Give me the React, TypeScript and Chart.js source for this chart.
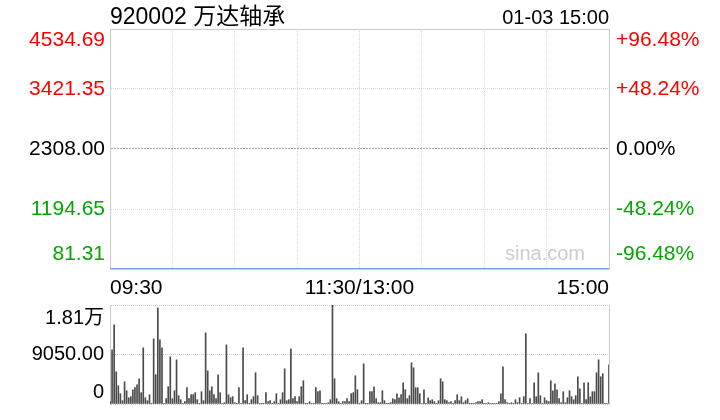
import React, { useEffect, useRef } from "react";
import { Chart, registerables } from "chart.js";

Chart.register(...registerables);

const FONT = "'Liberation Sans', Arial, Helvetica, 'Noto Sans CJK SC', sans-serif";
const RED = "#ff0000";
const GREEN = "#00a800";
const BLUE = "#5b82c8";

const stockTitle = "920002 万达轴承";
const stampText = "01-03 15:00";
const watermark = "sina.com";

const prevClose = 2308.0;
const priceTicks = [81.31, 1194.65, 2308.0, 3421.35, 4534.69];
const pctTicks = [-96.48, -48.24, 0, 48.24, 96.48];
const pctLabels = ["-96.48%", "-48.24%", "0.00%", "+48.24%", "+96.48%"];

const timeTicks = [0, 30, 60, 90, 120, 150, 180, 210, 240];
const timeTickLabels = ["09:30", "", "", "", "11:30/13:00", "", "", "", "15:00"];

// price line (minute index, price)
const priceMinutes = [0, 240];
const prices = [81.31, 81.31];

const volTicks = [0, 9050, 18100];
const volTickLabels = ["0", "9050.00", "1.81万"];

// per-minute volume, 09:30-11:30 (121 bars)
const amVolumes = [
  430, 9900, 14460, 5890, 3340, 1880, 610, 4070, 2430, 1150,
  1340, 2610, 2980, 3520, 4620, 2070, 10270, 1150, 610, 1700,
  60, 11900, 5350, 17550, 11720, 10270, 60, 970, 3160, 8630,
  970, 2430, 8080, 1520, 790, 60, 430, 2980, 970, 1700,
  1700, 2070, 790, 60, 2250, 610, 13000, 6070, 2430, 3160,
  1700, 970, 5350, 2070, 60, 240, 10810, 1700, 1150, 1340,
  240, 60, 2980, 60, 10270, 610, 1700, 60, 790, 1340,
  5710, 1520, 60, 60, 60, 2070, 430, 610, 60, 430,
  1880,
  60, 790, 2070, 6440, 610, 790, 10080, 970, 1340, 430,
  1340, 3160, 4250, 60, 60, 430, 60, 60, 2980, 2250,
  2430, 60, 60, 60, 240, 790, 18100, 4620, 970, 430,
  60, 430, 430, 970, 430, 1880, 2070, 5160, 2610, 60,
];

// per-minute volume, 13:01-15:00 (120 bars)
const pmVolumes = [
  610, 7350, 60, 60, 2250, 2250, 3160, 970, 240, 240,
  2430, 610, 60, 60, 240, 970, 790, 1880, 1150, 1700,
  3890, 2610, 970, 1520, 7530, 6620, 2980, 2980, 1880, 60,
  2610, 60, 1150, 610, 790, 430, 60, 610, 4620, 4070,
  790,
  610, 240, 430, 30, 610, 1700, 610, 1340, 240, 610,
  970, 60, 60, 60, 240, 430, 430, 790, 60, 60,
  240, 60, 60, 60, 30, 430, 1880, 6800, 790, 240,
  60, 240, 60, 790, 240, 1150, 60, 1340, 12820, 60,
  970,
  60, 3890, 1340, 5710, 1520, 60, 1150, 610, 430, 4250,
  2430, 3710, 2610, 970, 240, 2250, 240, 1150, 2430, 1340,
  790, 1520, 4980, 2790, 60, 3890, 790, 3890, 1340, 2250,
  2250, 5710, 8080, 4980, 5530, 60, 60, 7170,
];

const volumes = [...amVolumes, ...pmVolumes];

const colorFor = (v: number, mid: number) => (v > mid ? RED : v < mid ? GREEN : "#000");

const fixWidth = (w: number) => (ax: any) => {
  ax.width = w;
  ax.paddingTop = 0;
  ax.paddingBottom = 0;
  ax.paddingLeft = 0;
  ax.paddingRight = 0;
};

const textPlugin = {
  id: "headerTexts",
  afterDraw(chart: any) {
    const { ctx, chartArea } = chart;
    ctx.save();
    ctx.textBaseline = "alphabetic";
    ctx.fillStyle = "#000";
    ctx.textAlign = "left";
    ctx.font = `23px ${FONT}`;
    ctx.fillText(stockTitle, chartArea.left, 24);
    ctx.textAlign = "right";
    ctx.font = `20px ${FONT}`;
    ctx.fillText(stampText, chartArea.right, 24);
    ctx.fillStyle = "#cccccc";
    ctx.fillText(watermark, chartArea.right - 24, chartArea.bottom - 9);
    ctx.restore();
  },
};

export default function App() {
  const priceRef = useRef<HTMLCanvasElement>(null);
  const volRef = useRef<HTMLCanvasElement>(null);

  useEffect(() => {
    const priceChart = new Chart(priceRef.current as HTMLCanvasElement, {
      type: "line",
      data: {
        datasets: [
          {
            data: priceMinutes.map((m, i) => ({ x: m, y: prices[i] })),
            borderColor: BLUE,
            borderWidth: 1.5,
            pointRadius: 0,
            tension: 0,
            yAxisID: "y",
          },
        ],
      },
      options: {
        responsive: false,
        animation: false,
        events: [],
        layout: { padding: { top: 29, left: 0, right: 0, bottom: 0 } },
        plugins: { legend: { display: false }, tooltip: { enabled: false } },
        scales: {
          x: {
            type: "linear",
            min: 0,
            max: 240,
            offset: false,
            afterBuildTicks: (ax: any) => {
              ax.ticks = timeTicks.map((v) => ({ value: v }));
            },
            afterFit: (ax: any) => {
              ax.height = 31;
              ax.paddingLeft = 0;
              ax.paddingRight = 0;
            },
            grid: {
              drawTicks: false,
              lineWidth: 1,
              color: (c: any) =>
                c.tick && (c.tick.value === 0 || c.tick.value === 240) ? "rgba(0,0,0,0)" : "#d8d8d8",
            },
            border: {
              display: true,
              color: "#cccccc",
              dash: (c: any) => (c.type === "tick" ? [1, 1] : []),
            },
            ticks: {
              autoSkip: false,
              maxRotation: 0,
              align: "inner",
              padding: 7,
              color: "#000",
              font: { family: FONT, size: 21 },
              callback: (_v: any, i: number) => timeTickLabels[i],
            },
          },
          y: {
            position: "left",
            min: priceTicks[0],
            max: priceTicks[priceTicks.length - 1],
            afterBuildTicks: (ax: any) => {
              ax.ticks = priceTicks.map((v) => ({ value: v }));
            },
            afterFit: fixWidth(110),
            grid: {
              drawTicks: false,
              lineWidth: 1,
              color: (c: any) => {
                if (!c.tick) return "#cccccc";
                const i = c.index;
                if (i === 0 || i === priceTicks.length - 1) return "#cccccc";
                if (c.tick.value === prevClose) return "#a8a8a8";
                return "#d8d8d8";
              },
            },
            border: {
              display: true,
              color: "#cccccc",
              dash: (c: any) => {
                if (c.type !== "tick") return [];
                const i = c.index;
                if (i === 0 || i === priceTicks.length - 1) return [];
                if (c.tick && c.tick.value === prevClose) return [2, 1];
                return [1, 1];
              },
            },
            ticks: {
              autoSkip: false,
              padding: 5,
              color: (c: any) => (c.tick ? colorFor(c.tick.value, prevClose) : "#000"),
              font: (c: any) => ({
                family: FONT,
                size: 21,
                lineHeight: c.index === priceTicks.length - 1 ? "22px" : c.index === 0 ? "30px" : 1.2,
              }),
              callback: (_v: any, i: number) => {
                const t = priceTicks[i].toFixed(2);
                if (i === priceTicks.length - 1) return ["", t];
                if (i === 0) return [t, ""];
                return t;
              },
            },
          },
          y2: {
            position: "right",
            min: pctTicks[0],
            max: pctTicks[pctTicks.length - 1],
            afterBuildTicks: (ax: any) => {
              ax.ticks = pctTicks.map((v) => ({ value: v }));
            },
            afterFit: fixWidth(111),
            grid: { display: false, drawTicks: false },
            border: { display: true, color: "#cccccc" },
            ticks: {
              autoSkip: false,
              padding: 7,
              color: (c: any) => (c.tick ? colorFor(c.tick.value, 0) : "#000"),
              font: (c: any) => ({
                family: FONT,
                size: 21,
                lineHeight: c.index === pctTicks.length - 1 ? "22px" : c.index === 0 ? "30px" : 1.2,
              }),
              callback: (_v: any, i: number) => {
                const t = pctLabels[i];
                if (i === pctTicks.length - 1) return ["", t];
                if (i === 0) return [t, ""];
                return t;
              },
            },
          },
        },
      } as any,
      plugins: [textPlugin],
    });

    const volChart = new Chart(volRef.current as HTMLCanvasElement, {
      type: "bar",
      data: {
        datasets: [
          {
            data: volumes.map((v, i) => ({ x: i, y: v })),
            backgroundColor: "#4a4a4a",
            borderWidth: 0,
            barThickness: 1,
            yAxisID: "y",
          },
        ],
      },
      options: {
        responsive: false,
        animation: false,
        events: [],
        layout: { padding: { top: 5, left: 0, right: 0, bottom: 16 } },
        plugins: { legend: { display: false }, tooltip: { enabled: false } },
        scales: {
          x: { type: "linear", min: 0, max: 240, offset: false, display: false },
          y: {
            position: "left",
            min: volTicks[0],
            max: volTicks[volTicks.length - 1],
            afterBuildTicks: (ax: any) => {
              ax.ticks = volTicks.map((v) => ({ value: v }));
            },
            afterFit: fixWidth(110),
            grid: { drawTicks: false, lineWidth: 1, color: "#c8c8c8" },
            border: {
              display: true,
              color: "#cccccc",
              dash: (c: any) => (c.type === "tick" ? [1, 1] : []),
            },
            ticks: {
              autoSkip: false,
              padding: 6,
              color: "#000",
              font: (c: any) => ({
                family: FONT,
                size: 20,
                lineHeight: c.index === volTicks.length - 1 ? "26px" : c.index === 0 ? "24px" : 1.2,
              }),
              callback: (_v: any, i: number) => {
                const t = volTickLabels[i];
                if (i === volTicks.length - 1) return ["", t];
                if (i === 0) return [t, ""];
                return t;
              },
            },
          },
          yR: {
            position: "right",
            min: volTicks[0],
            max: volTicks[volTicks.length - 1],
            afterFit: fixWidth(111),
            grid: { display: false, drawTicks: false },
            border: { display: true, color: "#cccccc" },
            ticks: { display: false },
          },
        },
      } as any,
    });

    return () => {
      priceChart.destroy();
      volChart.destroy();
    };
  }, []);

  return (
    <div style={{ position: "absolute", left: 0, top: 0, width: 720, height: 420, background: "#fff" }}>
      <canvas
        ref={priceRef}
        width={720}
        height={300}
        style={{ position: "absolute", left: 0, top: 0, width: 720, height: 300 }}
      />
      <canvas
        ref={volRef}
        width={720}
        height={120}
        style={{ position: "absolute", left: 0, top: 300, width: 720, height: 120 }}
      />
    </div>
  );
}
